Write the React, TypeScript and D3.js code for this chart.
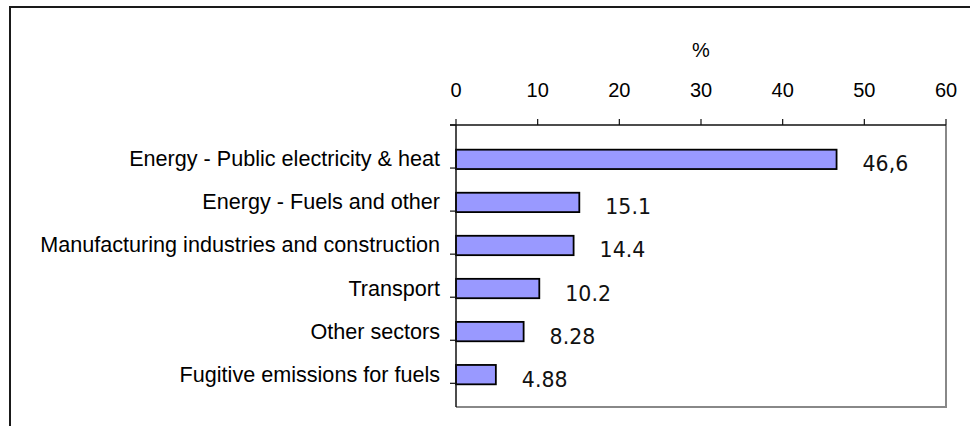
import * as d3 from "d3";

const CATEGORIES = [
  "Energy - Public electricity & heat",
  "Energy - Fuels and other",
  "Manufacturing industries and construction",
  "Transport",
  "Other sectors",
  "Fugitive emissions for fuels",
];
const VALUES = [46.6, 15.1, 14.4, 10.2, 8.28, 4.88];
const VALUE_LABELS = ["46,6", "15.1", "14.4", "10.2", "8.28", "4.88"];
const X_TICKS = [0, 10, 20, 30, 40, 50, 60];
const AXIS_TITLE = "%";

const WIDTH = 970;
const HEIGHT = 426;
const PLOT = { left: 456, right: 946, top: 125, bottom: 407 };
const SANS = '"Liberation Sans", Arial, sans-serif';
const VALUE_FONT = '"DejaVu Sans", Verdana, sans-serif';

export default function App() {
  const x = d3.scaleLinear().domain([0, 60]).range([PLOT.left, PLOT.right]);
  const y = d3
    .scaleBand<string>()
    .domain(CATEGORIES)
    .range([PLOT.top, PLOT.bottom])
    .padding(0.55);
  const step = y.step();
  const boundaries = d3.range(CATEGORIES.length + 1).map((i) => PLOT.top + i * step);

  return (
    <svg
      width={WIDTH}
      height={HEIGHT}
      style={{ position: "absolute", left: 0, top: 0, background: "#fff" }}
    >
      {/* outer chart frame */}
      <rect x={10} y={7} width={1000} height={500} fill="none" stroke="#1a1a1a" strokeWidth={2} />

      {/* plot area right/bottom border */}
      <path
        d={`M${PLOT.left},${PLOT.bottom}H${PLOT.right}V${PLOT.top}`}
        fill="none"
        stroke="#888"
        strokeWidth={2}
      />

      {/* bars */}
      {CATEGORIES.map((c, i) => (
        <rect
          key={c}
          x={x(0)}
          y={(y(c) ?? 0) + 1}
          width={x(VALUES[i]) - x(0)}
          height={y.bandwidth()}
          fill="#9999ff"
          stroke="#000"
          strokeWidth={1.8}
        />
      ))}

      {/* value labels */}
      {CATEGORIES.map((c, i) => (
        <text
          key={c}
          x={x(VALUES[i]) + 26}
          y={(y(c) ?? 0) + y.bandwidth() / 2 + 13}
          fontFamily={VALUE_FONT}
          fontSize={20.5}
          fill="#111"
        >
          {VALUE_LABELS[i]}
        </text>
      ))}

      {/* top value axis */}
      <line x1={PLOT.left - 6} x2={PLOT.right} y1={PLOT.top} y2={PLOT.top} stroke="#111" strokeWidth={1.5} />
      {X_TICKS.map((t) => (
        <g key={t}>
          <line x1={x(t)} x2={x(t)} y1={PLOT.top} y2={PLOT.top - 6} stroke="#111" strokeWidth={1.2} />
          <text
            x={x(t)}
            y={97}
            textAnchor="middle"
            fontFamily={SANS}
            fontSize={20}
            fill="#000"
          >
            {t}
          </text>
        </g>
      ))}
      <text
        x={(PLOT.left + PLOT.right) / 2}
        y={57}
        textAnchor="middle"
        fontFamily={SANS}
        fontSize={20}
        fill="#000"
      >
        {AXIS_TITLE}
      </text>

      {/* left category axis */}
      <line x1={PLOT.left} x2={PLOT.left} y1={PLOT.top} y2={PLOT.bottom} stroke="#111" strokeWidth={1.5} />
      {boundaries.map((b) => (
        <line key={b} x1={PLOT.left - 6} x2={PLOT.left} y1={b} y2={b} stroke="#111" strokeWidth={1.2} />
      ))}
      {CATEGORIES.map((c) => (
        <text
          key={c}
          x={PLOT.left - 16}
          y={(y(c) ?? 0) + y.bandwidth() / 2 + 8}
          textAnchor="end"
          fontFamily={SANS}
          fontSize={21.6}
          fill="#000"
        >
          {c}
        </text>
      ))}
    </svg>
  );
}
